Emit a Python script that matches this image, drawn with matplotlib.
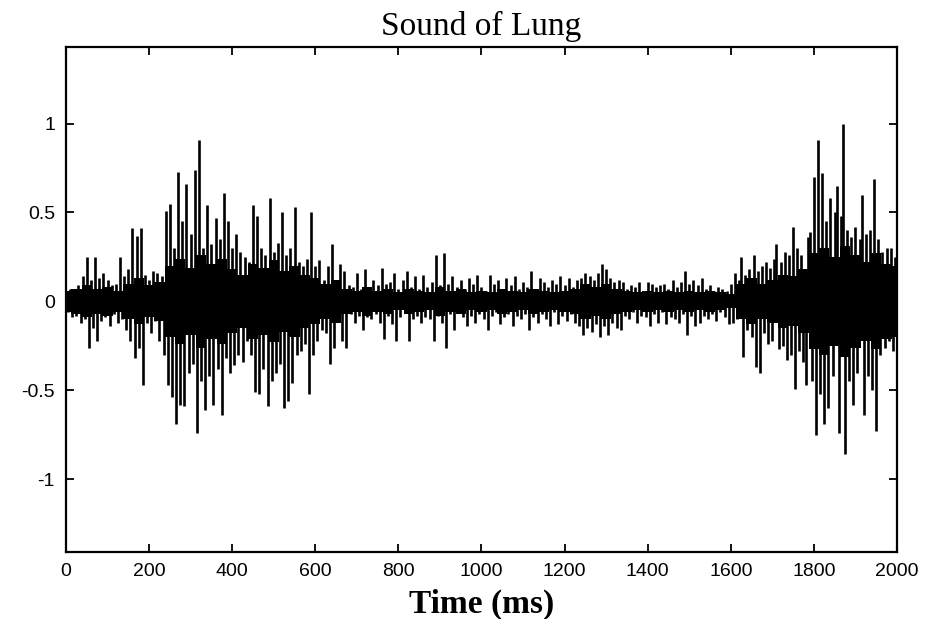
import numpy as np
import matplotlib
matplotlib.use("Agg")
from matplotlib import pyplot as plt

plt.rcParams['font.family'] = ['Liberation Sans', 'DejaVu Sans']
plt.rcParams['axes.unicode_minus'] = False

dt_ms = 5  # one sample every 5 ms

# amplitude samples, one list per 100 ms
seg_0000 = [0.05, -0.06, 0.07, -0.09, 0.06, -0.08, 0.09, -0.12, 0.14, -0.10,
            0.25, -0.26, 0.12, -0.15, 0.25, -0.22, 0.13, -0.11, 0.16, -0.09]
seg_0100 = [0.12, -0.14, 0.09, -0.07, 0.10, -0.12, 0.25, -0.10, 0.14, -0.16,
            0.18, -0.22, 0.41, -0.32, 0.37, -0.26, 0.41, -0.47, 0.15, -0.12]
seg_0200 = [0.12, -0.18, 0.17, -0.11, 0.16, -0.22, 0.14, -0.30, 0.51, -0.47,
            0.55, -0.54, 0.30, -0.69, 0.73, -0.58, 0.45, -0.59, 0.66, -0.40]
seg_0300 = [0.38, -0.35, 0.74, -0.74, 0.91, -0.45, 0.30, -0.61, 0.54, -0.42,
            0.32, -0.58, 0.47, -0.38, 0.35, -0.64, 0.61, -0.32, 0.45, -0.40]
seg_0400 = [0.30, -0.36, 0.38, -0.30, 0.28, -0.34, 0.25, -0.22, 0.22, -0.30,
            0.54, -0.51, 0.48, -0.52, 0.30, -0.38, 0.26, -0.59, 0.58, -0.45]
seg_0500 = [0.28, -0.40, 0.33, -0.35, 0.50, -0.60, 0.26, -0.56, 0.30, -0.46,
            0.53, -0.30, 0.22, -0.28, 0.20, -0.24, 0.24, -0.52, 0.50, -0.30]
seg_0600 = [0.20, -0.22, 0.23, -0.16, 0.12, -0.18, 0.20, -0.35, 0.32, -0.26,
            0.12, -0.10, 0.21, -0.22, 0.17, -0.26, 0.09, -0.07, 0.08, -0.12]
seg_0700 = [0.16, -0.08, 0.07, -0.16, 0.18, -0.09, 0.08, -0.10, 0.12, -0.07,
            0.09, -0.12, 0.19, -0.21, 0.10, -0.08, 0.11, -0.13, 0.16, -0.22]
seg_0800 = [0.07, -0.09, 0.12, -0.06, 0.17, -0.22, 0.08, -0.10, 0.14, -0.08,
            0.07, -0.12, 0.15, -0.09, 0.08, -0.10, 0.11, -0.22, 0.26, -0.08]
seg_0900 = [0.09, -0.12, 0.27, -0.26, 0.10, -0.07, 0.14, -0.16, 0.08, -0.06,
            0.12, -0.09, 0.07, -0.14, 0.13, -0.08, 0.10, -0.12, 0.15, -0.07]
seg_1000 = [0.08, -0.10, 0.06, -0.16, 0.15, -0.08, 0.10, -0.06, 0.12, -0.13,
            0.07, -0.09, 0.13, -0.07, 0.09, -0.14, 0.14, -0.08, 0.07, -0.10]
seg_1100 = [0.11, -0.07, 0.08, -0.16, 0.17, -0.09, 0.06, -0.12, 0.13, -0.07,
            0.11, -0.10, 0.08, -0.14, 0.12, -0.06, 0.10, -0.13, 0.14, -0.08]
seg_1200 = [0.09, -0.11, 0.13, -0.07, 0.08, -0.12, 0.12, -0.14, 0.13, -0.19,
            0.16, -0.15, 0.14, -0.17, 0.12, -0.13, 0.16, -0.20, 0.21, -0.14]
seg_1300 = [0.18, -0.19, 0.13, -0.12, 0.11, -0.15, 0.12, -0.16, 0.11, -0.08,
            0.07, -0.10, 0.09, -0.06, 0.08, -0.12, 0.11, -0.08, 0.06, -0.09]
seg_1400 = [0.11, -0.14, 0.10, -0.07, 0.08, -0.12, 0.09, -0.06, 0.10, -0.13,
            0.07, -0.09, 0.12, -0.10, 0.08, -0.12, 0.11, -0.07, 0.17, -0.19]
seg_1500 = [0.10, -0.08, 0.12, -0.14, 0.09, -0.12, 0.13, -0.08, 0.07, -0.10,
            0.09, -0.07, 0.06, -0.11, 0.08, -0.06, 0.07, -0.09, 0.06, -0.13]
seg_1600 = [0.10, -0.12, 0.16, -0.10, 0.12, 0.25, -0.31, 0.15, -0.16, 0.18,
            -0.20, 0.26, -0.37, 0.17, -0.40, 0.20, -0.18, 0.22, -0.24, 0.19]
seg_1700 = [-0.22, 0.24, 0.32, -0.27, 0.22, -0.25, 0.28, -0.33, 0.26, -0.30,
            0.42, -0.49, 0.30, -0.28, 0.26, -0.34, -0.47, 0.36, 0.39, -0.45]
seg_1800 = [0.70, -0.75, 0.91, -0.52, 0.72, -0.69, 0.45, -0.60, 0.58, -0.42,
            0.50, 0.65, -0.74, 0.48, 1.00, -0.86, 0.40, -0.45, 0.36, -0.58]
seg_1900 = [0.42, -0.40, 0.35, 0.60, -0.64, 0.38, -0.42, 0.40, -0.50, 0.69,
            -0.73, 0.35, -0.30, 0.28, -0.26, 0.30, -0.22, 0.30, -0.28, 0.25, -0.20]

# half-width of the solid dark band around zero, every 25 ms
core_step_ms = 25
core = [0.06, 0.07, 0.09, 0.07, 0.08, 0.06, 0.10, 0.13, 0.09, 0.11,
        0.20, 0.24, 0.19, 0.26, 0.21, 0.24, 0.18, 0.15, 0.21, 0.19,
        0.23, 0.17, 0.20, 0.15, 0.13, 0.10, 0.12, 0.07, 0.06, 0.08,
        0.06, 0.07, 0.05, 0.07, 0.06, 0.05, 0.08, 0.06, 0.07, 0.05,
        0.06, 0.05, 0.07, 0.06, 0.05, 0.07, 0.06, 0.05, 0.06, 0.07,
        0.10, 0.08, 0.10, 0.07, 0.06, 0.05, 0.06, 0.05, 0.06, 0.05,
        0.06, 0.05, 0.06, 0.05, 0.04, 0.10, 0.13, 0.10, 0.12, 0.15,
        0.14, 0.18, 0.27, 0.30, 0.25, 0.31, 0.26, 0.22, 0.27, 0.21, 0.20]

amp = np.concatenate([seg_0000, seg_0100, seg_0200, seg_0300, seg_0400,
                      seg_0500, seg_0600, seg_0700, seg_0800, seg_0900,
                      seg_1000, seg_1100, seg_1200, seg_1300, seg_1400,
                      seg_1500, seg_1600, seg_1700, seg_1800, seg_1900])
t_ms = np.arange(len(amp)) * dt_ms
core = np.array(core)
t_core = np.arange(len(core)) * core_step_ms

x_ticks = [0, 200, 400, 600, 800, 1000, 1200, 1400, 1600, 1800, 2000]
y_ticks = [-1, -0.5, 0, 0.5, 1]
y_labels = ['-1', '-0.5', '0', '0.5', '1']

fig = plt.figure(figsize=(9.36, 6.19), dpi=100)
ax = fig.add_axes([0.0705, 0.108, 0.8878, 0.816])
ax.fill_between(t_core, -core, core, step='mid', color='k', lw=0)
ax.vlines(t_ms, 0, amp, color='k', lw=1.9)

ax.set_xlim(0, 2000)
ax.set_ylim(-1.41, 1.43)
ax.set_xticks(x_ticks)
ax.set_yticks(y_ticks)
ax.set_yticklabels(y_labels)
ax.tick_params(direction='in', top=True, right=True, length=6, width=1.3,
               labelsize=14, pad=8)
for s in ax.spines.values():
    s.set_linewidth(1.6)

ax.set_title('Sound of Lung', fontsize=24, family='Liberation Serif', pad=9)
ax.set_xlabel('Time (ms)', fontsize=24, family='Liberation Serif',
              fontweight='bold')
ax.xaxis.set_label_coords(0.5, -0.072)

fig.savefig('out.png', dpi=100)
